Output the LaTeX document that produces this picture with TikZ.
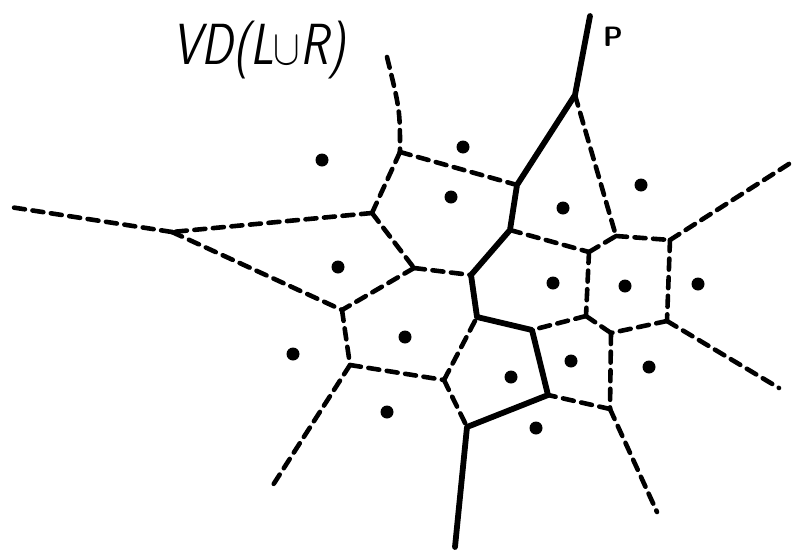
\documentclass[tikz,border=0pt]{standalone}
\usepackage{tikz}

\begin{document}
\begin{tikzpicture}[
  x=0.5pt,y=-0.5pt,
  voro/.style={line width=2.3pt,dash pattern=on 5.5pt off 3.8pt,line cap=round},
  bis/.style={line width=2.9pt,line join=round,line cap=round},
  site/.style={circle,fill=black,inner sep=0pt,minimum size=6.5pt},
  label/.style={font=\sffamily,inner sep=0pt}
]
\useasboundingbox (0,0) rectangle (794,552);

% Title and label
\node[label,font=\sffamily\slshape\fontsize{29}{32}\selectfont] (ttl) at (259,50)
  {\scalebox{0.8}[1]{VD(L$\cup$R)}};

% Merge chain P
\coordinate (p0) at (590,16);
\coordinate (p1) at (575,95);
\coordinate (p2) at (517,185);
\coordinate (p3) at (510,230);
\coordinate (p4) at (471,275);
\coordinate (p5) at (477,317);
\coordinate (p6) at (532,330);
\coordinate (p7) at (548,395);
\coordinate (p8) at (467,427);
\coordinate (p9) at (455,547);
\node[label,font=\sffamily\bfseries\fontsize{14}{16}\selectfont] (plab) at (613,37) {P};

% Voronoi vertices, left part
\coordinate (ta) at (387,57);
\coordinate (a) at (400,152);
\coordinate (b) at (372,213);
\coordinate (c) at (172,232);
\coordinate (lc) at (10,207);
\coordinate (d) at (342,310);
\coordinate (e) at (414,268);
\coordinate (f) at (350,365);
\coordinate (lf) at (273,485);
\coordinate (g) at (444,380);

% Voronoi vertices, right part
\coordinate (h) at (616,236);
\coordinate (i) at (589,252);
\coordinate (j) at (670,240);
\coordinate (rj) at (792,162);
\coordinate (k) at (667,321);
\coordinate (rk) at (779,388);
\coordinate (l) at (611,333);
\coordinate (m) at (586,316);
\coordinate (n) at (610,409);
\coordinate (bn) at (657,512);

% Sites
\node[site] (s1) at (322,160) {};
\node[site] (s2) at (338,267) {};
\node[site] (s3) at (463,147) {};
\node[site] (s4) at (451,197) {};
\node[site] (s5) at (563,208) {};
\node[site] (s6) at (641,185) {};
\node[site] (s7) at (553,283) {};
\node[site] (s8) at (625,286) {};
\node[site] (s9) at (698,284) {};
\node[site] (s10) at (293,354) {};
\node[site] (s11) at (405,337) {};
\node[site] (s12) at (387,412) {};
\node[site] (s13) at (511,377) {};
\node[site] (s14) at (571,361) {};
\node[site] (s15) at (649,367) {};
\node[site] (s16) at (536,428) {};

% Left diagram edges
\draw[voro] (ta) .. controls (400,110) .. (a);
\draw[voro] (a) -- (p2);
\draw[voro] (a) -- (b);
\draw[voro] (b) -- (c);
\draw[voro] (c) -- (lc);
\draw[voro] (c) -- (d);
\draw[voro] (b) -- (e);
\draw[voro] (e) -- (p4);
\draw[voro] (e) -- (d);
\draw[voro] (d) -- (f);
\draw[voro] (f) -- (lf);
\draw[voro] (f) -- (g);
\draw[voro] (g) -- (p5);
\draw[voro] (g) -- (p8);

% Right diagram edges
\draw[voro] (p1) -- (h);
\draw[voro] (p3) -- (i);
\draw[voro] (i) -- (h);
\draw[voro] (h) -- (j);
\draw[voro] (j) -- (rj);
\draw[voro] (j) -- (k);
\draw[voro] (k) -- (rk);
\draw[voro] (k) -- (l);
\draw[voro] (i) -- (m);
\draw[voro] (m) -- (l);
\draw[voro] (m) -- (p6);
\draw[voro] (l) -- (n);
\draw[voro] (n) -- (p7);
\draw[voro] (n) -- (bn);

% Chain
\draw[bis] (p0) -- (p1) -- (p2) -- (p3) -- (p4) -- (p5) -- (p6) -- (p7) -- (p8) -- (p9);

\end{tikzpicture}
\end{document}
